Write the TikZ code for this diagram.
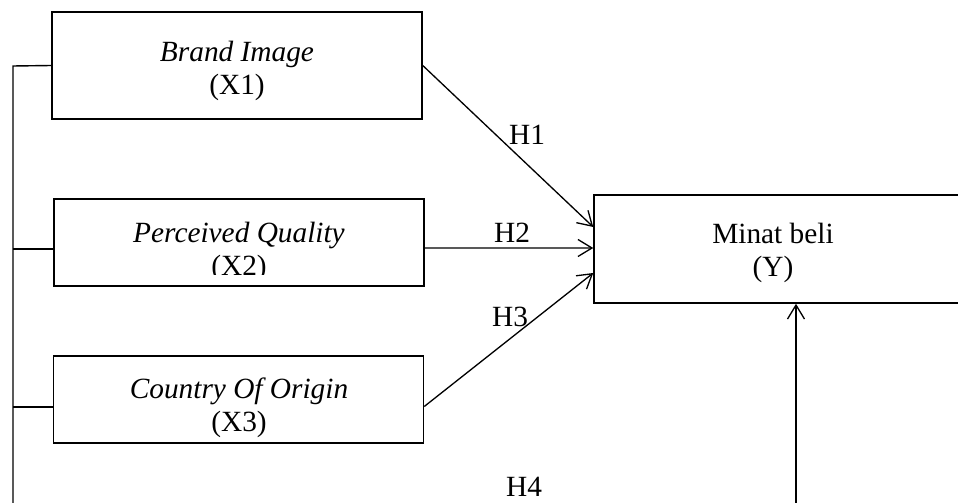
\documentclass[tikz,border=0pt]{standalone}
\usepackage{fontspec}
\setmainfont{Liberation Serif}
\usetikzlibrary{arrows.meta,calc}
\begin{document}
\begin{tikzpicture}[x=0.02cm,y=-0.02cm,
    varbox/.style={draw,line width=0.9pt,inner sep=0pt},
    vartext/.style={align=center,font=\fontsize{16.7}{19}\selectfont},
    hyp/.style={font=\fontsize{16.7}{19}\selectfont},
    >={Straight Barb[length=2.8mm,width=3.4mm]}]
    \clip (0,0) rectangle (958,503);
    % variable boxes
    \node[varbox,minimum width=7.4cm,minimum height=2.14cm] (x1) at (237,65.5) {};
    \node[varbox,minimum width=7.4cm,minimum height=1.74cm] (x2) at (239,242.5) {};
    \node[varbox,minimum width=7.4cm,minimum height=1.74cm] (x3) at (238.5,399.5) {};
    \node[varbox,minimum width=8.12cm,minimum height=2.16cm] (Y) at (797,249) {};

    \node[vartext] (x1t) at (237,71) {\textit{Brand Image}\\(X1)};
    \begin{scope}
      \clip (54,199) rectangle (424,275);
      \node[vartext] (x2t) at (239,252) {\textit{Perceived Quality}\\(X2)};
    \end{scope}
    \node[vartext] (x3t) at (239,408) {\textit{Country Of Origin}\\(X3)};
    \node[vartext] (yt) at (773,253) {Minat beli\\(Y)};

    % left bus
    \coordinate (bustop) at (13,66);
    \coordinate (busfoot) at (13,520);
    \coordinate (x2in) at ($(x2.west)+(0,6.5)$);
    \coordinate (x3in) at ($(x3.west)+(0,7.5)$);
    \draw[line width=0.8pt] (x1.west) -- (bustop) -- (busfoot);
    \draw[line width=0.8pt] (x2in) -- (x2in -| bustop);
    \draw[line width=0.8pt] (x3in) -- (x3in -| bustop);

    % hypotheses
    \coordinate (x2out) at ($(x2.east)+(0,5.5)$);
    \coordinate (x3out) at ($(x3.east)+(0,7)$);
    \coordinate (y1) at ($(Y.west)+(0,-22)$);
    \coordinate (y2) at ($(Y.west)+(0,-1)$);
    \coordinate (y3) at ($(Y.west)+(0,24)$);
    \coordinate (h4foot) at (796,520);
    \draw[->,line width=0.75pt] (x1.east) -- (y1);
    \draw[->,line width=0.75pt] (x2out) -- (y2);
    \draw[->,line width=0.75pt] (x3out) -- (y3);
    \draw[->,line width=0.75pt] (h4foot) -- (h4foot |- Y.south);

    \node[hyp] (h1) at (527,135) {H1};
    \node[hyp] (h2) at (512,233) {H2};
    \node[hyp] (h3) at (510,317) {H3};
    \node[hyp] (h4) at (524,487) {H4};
\end{tikzpicture}
\end{document}
